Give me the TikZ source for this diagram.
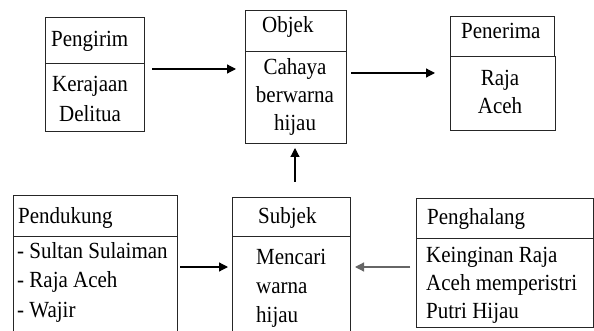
\documentclass[tikz,border=0pt]{standalone}
\usepackage{fontspec}
\setmainfont{Liberation Serif}
\usetikzlibrary{arrows.meta}
\newcommand{\tx}[1]{\scalebox{1}[1.1]{#1}}
\begin{document}
\begin{tikzpicture}[x=1pt,y=-1pt,
  part/.style={draw=black!85, line width=1.2pt, inner sep=0pt, anchor=north west},
  lbl/.style={anchor=base west, inner sep=0pt, font=\fontsize{21}{29}\selectfont},
  lblc/.style={anchor=base, inner sep=0pt, font=\fontsize{21}{29}\selectfont},
  arr/.style={line width=1.2pt, -{Triangle[length=9pt,width=9pt]}}]
\useasboundingbox (0,0) rectangle (594,331);
\clip (0,0) rectangle (594,331);
% Pengirim
\node[part, minimum width=99pt, minimum height=46pt] (pgH) at (45,17) {};
\node[part, minimum width=99pt, minimum height=68pt] (pgB) at (45,63) {};
\node[lbl] (tPg) at (51,47) {\tx{Pengirim}};
\node[lblc] (tPg1) at (90,92) {\tx{Kerajaan}};
\node[lblc] (tPg2) at (90,122) {\tx{Delitua}};
% Objek
\node[part, minimum width=101pt, minimum height=41pt] (obH) at (245,10) {};
\node[part, minimum width=101pt, minimum height=92pt] (obB) at (245,51) {};
\node[lbl] (tOb) at (262,33) {\tx{Objek}};
\node[lblc] (tOb1) at (295,75) {\tx{Cahaya}};
\node[lblc] (tOb2) at (295,103) {\tx{berwarna}};
\node[lblc] (tOb3) at (295,131) {\tx{hijau}};
% Penerima
\node[part, minimum width=104pt, minimum height=40pt] (peH) at (450,16) {};
\node[part, minimum width=105pt, minimum height=74pt] (peB) at (450,56) {};
\node[lbl] (tPe) at (461,39) {\tx{Penerima}};
\node[lblc] (tPe1) at (500,86) {\tx{Raja}};
\node[lblc] (tPe2) at (500,114) {\tx{Aceh}};
% Pendukung
\node[part, minimum width=164pt, minimum height=41pt] (pdH) at (13,195) {};
\node[part, minimum width=164pt, minimum height=110pt] (pdB) at (13,236) {};
\node[lbl] (tPd) at (18,223) {\tx{Pendukung}};
\node[lbl] (tPd1) at (17,258) {\tx{- Sultan Sulaiman}};
\node[lbl] (tPd2) at (17,287) {\tx{- Raja Aceh}};
\node[lbl] (tPd3) at (17,317) {\tx{- Wajir}};
% Subjek
\node[part, minimum width=118pt, minimum height=39pt] (sbH) at (232,197) {};
\node[part, minimum width=118pt, minimum height=110pt] (sbB) at (232,236) {};
\node[lbl] (tSb) at (258,223) {\tx{Subjek}};
\node[lbl] (tSb1) at (256,264) {\tx{Mencari}};
\node[lbl] (tSb2) at (256,293) {\tx{warna}};
\node[lbl] (tSb3) at (256,322) {\tx{hijau}};
% Penghalang
\node[part, minimum width=177pt, minimum height=40pt] (phH) at (416,198) {};
\node[part, minimum width=177pt, minimum height=89pt] (phB) at (416,238) {};
\node[lbl] (tPh) at (427,225) {\tx{Penghalang}};
\node[lbl] (tPh1) at (426,262) {\tx{Keinginan Raja}};
\node[lbl] (tPh2) at (426,290) {\tx{Aceh memperistri}};
\node[lbl] (tPh3) at (426,318) {\tx{Putri Hijau}};
% connectors
\coordinate (a1s) at (152,69);  \coordinate (a1e) at (236,69);
\coordinate (a2s) at (351,73);  \coordinate (a2e) at (435,73);
\coordinate (a3s) at (295,182); \coordinate (a3e) at (295,148);
\coordinate (a4s) at (180,267); \coordinate (a4e) at (228,267);
\coordinate (a5s) at (410,267); \coordinate (a5e) at (355,267);
\draw[arr] (a1s) -- (a1e);
\draw[arr] (a2s) -- (a2e);
\draw[arr] (a3s) -- (a3e);
\draw[arr] (a4s) -- (a4e);
\draw[arr, draw=black!60, fill=black!60] (a5s) -- (a5e);
\end{tikzpicture}
\end{document}
